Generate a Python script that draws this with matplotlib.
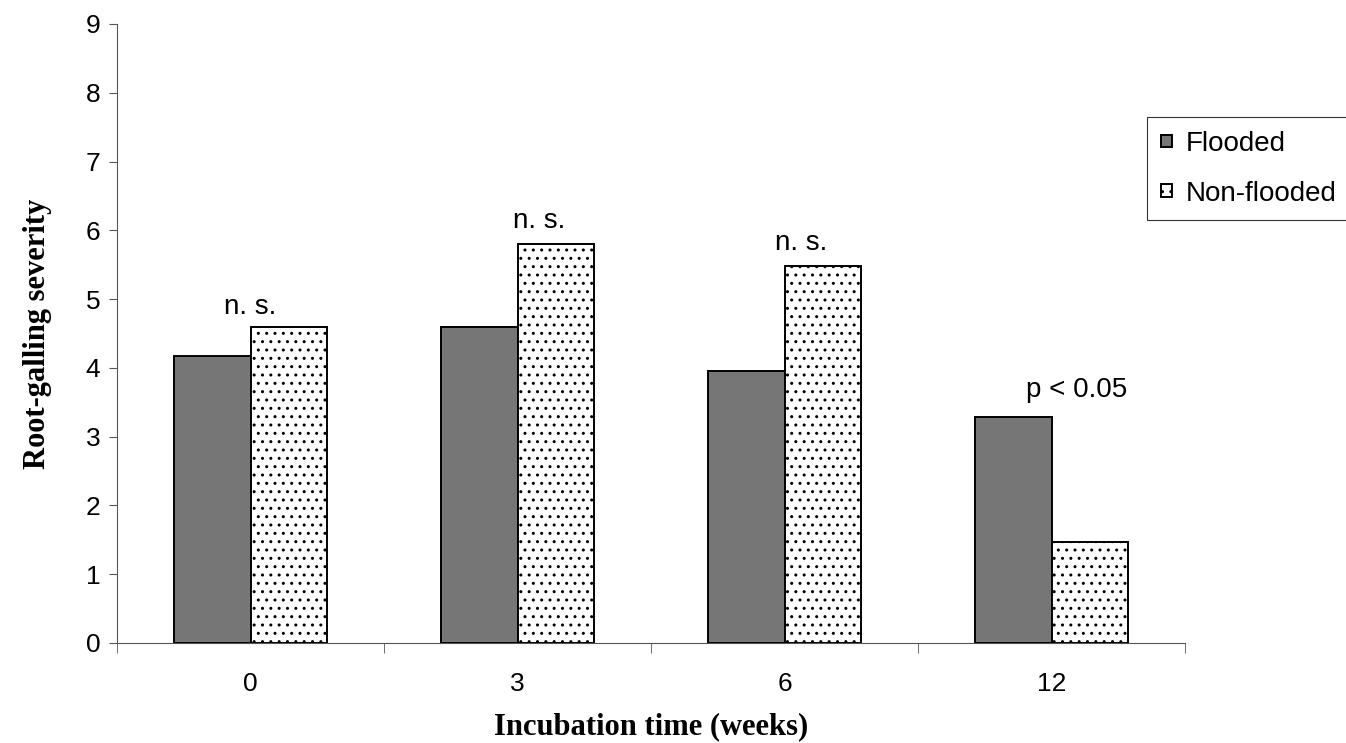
import numpy as np
import matplotlib
matplotlib.use('Agg')
import matplotlib.pyplot as plt

weeks = ['0', '3', '6', '12']
flooded = [4.18, 4.6, 3.96, 3.28]
non_flooded = [4.6, 5.8, 5.48, 1.47]
notes = ['n. s.', 'n. s.', 'n. s.', 'p < 0.05']
note_y = [4.78, 6.03, 5.72, 3.58]
note_dx = [0.0, 0.08, 0.06, 0.094]

plt.rcParams['hatch.linewidth'] = 1.0

fig = plt.figure(figsize=(13.46, 7.43), dpi=100)
ax = fig.add_axes([0.087, 0.1346, 0.7935, 0.8331])

x = np.arange(len(weeks))
w = 0.287
ax.bar(x - w / 2, flooded, w, color='#767676', edgecolor='black', linewidth=1.4,
       label='Flooded')
ax.bar(x + w / 2, non_flooded, w, color='white', edgecolor='black', linewidth=1.4,
       hatch='..', label='Non-flooded')

for i in range(len(weeks)):
    ax.text(x[i] + note_dx[i], note_y[i], notes[i], ha='center', va='baseline',
            fontsize=20, family='Liberation Sans')

ax.set_xlim(-0.5, 3.5)
ax.set_ylim(0, 9)
ax.set_yticks(range(10))
ax.set_xticks(x)
ax.set_xticklabels(weeks)
ax.set_xticks(np.arange(-0.5, 4, 1), minor=True)
ax.tick_params(axis='x', which='major', length=0, pad=21, labelsize=19)
ax.tick_params(axis='x', which='minor', length=7, direction='out', color='#555555')
ax.tick_params(axis='y', length=6, direction='out', pad=6, labelsize=19,
               color='#555555')
for lab in ax.get_xticklabels() + ax.get_yticklabels():
    lab.set_family('Liberation Sans')
ax.spines['top'].set_visible(False)
ax.spines['right'].set_visible(False)
ax.spines['left'].set_color('#555555')
ax.spines['bottom'].set_color('#555555')

ax.set_ylabel('Root-galling severity', family='Liberation Serif', fontweight='bold',
              fontsize=22)
ax.yaxis.set_label_coords(-0.061, 0.5)
ax.set_xlabel('Incubation time (weeks)', family='Liberation Serif', fontweight='bold',
              fontsize=22, va='top')
ax.xaxis.set_label_coords(0.5, -0.112)

leg = fig.legend(loc='upper left', bbox_to_anchor=(0.852, 0.8425), frameon=True,
                 fancybox=False, edgecolor='black', handlelength=0.4,
                 handleheight=0.3, handletextpad=0.5, labelspacing=0.85,
                 borderpad=0.5, borderaxespad=0,
                 prop={'family': 'Liberation Sans', 'size': 20})
leg.get_frame().set_linewidth(0.8)

fig.savefig('out.png', dpi=100)
